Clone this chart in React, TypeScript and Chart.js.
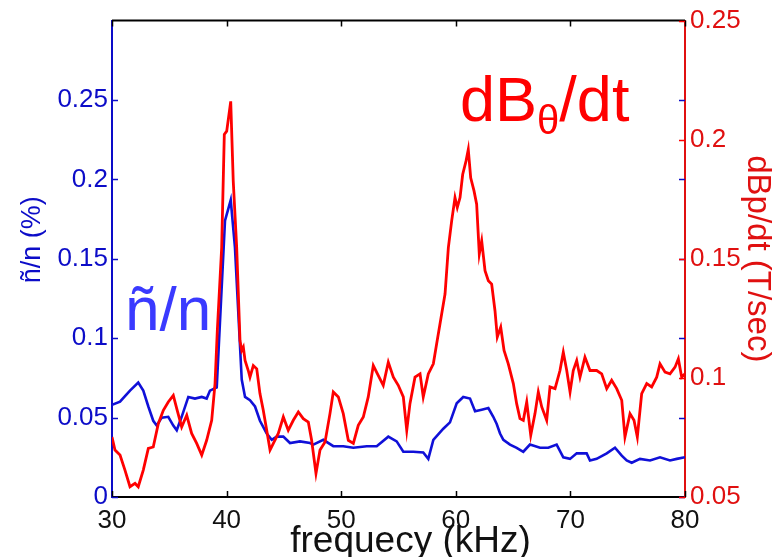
import React, { useEffect, useRef } from "react";
import { Chart, registerables } from "chart.js";
Chart.register(...registerables);

// ---- data ----
const freqTicks = [30, 40, 50, 60, 70, 80];
const leftTicks = [0, 0.05, 0.1, 0.15, 0.2, 0.25];
const rightTicks = [0.05, 0.1, 0.15, 0.2, 0.25];

const blueFreq = [30.00, 30.70, 31.57, 32.29, 32.73, 33.17, 33.60, 33.90, 34.34, 34.91, 35.35, 35.65, 36.08, 36.66, 37.24, 37.83, 38.26, 38.55, 39.14, 39.86, 40.36, 40.73, 41.32, 41.61, 42.04, 42.48, 42.91, 43.50, 43.94, 44.37, 44.95, 45.53, 46.40, 47.28, 47.57, 48.44, 49.31, 50.18, 51.06, 52.23, 53.10, 54.11, 54.84, 55.42, 56.29, 57.16, 57.60, 58.04, 58.91, 59.49, 60.08, 60.65, 61.24, 61.68, 62.26, 62.84, 63.27, 63.57, 63.86, 64.15, 64.73, 65.31, 65.89, 66.47, 67.35, 68.07, 68.80, 69.38, 69.97, 70.55, 71.42, 71.71, 72.29, 73.17, 73.89, 74.48, 74.91, 75.35, 76.07, 76.95, 77.82, 78.69, 79.28, 80.00];
const blueVal = [0.058, 0.060, 0.067, 0.072, 0.067, 0.057, 0.048, 0.045, 0.050, 0.0505, 0.045, 0.042, 0.0505, 0.063, 0.062, 0.063, 0.062, 0.067, 0.069, 0.174, 0.187, 0.157, 0.074, 0.063, 0.061, 0.057, 0.048, 0.040, 0.036, 0.038, 0.038, 0.034, 0.035, 0.034, 0.033, 0.036, 0.032, 0.032, 0.031, 0.032, 0.032, 0.038, 0.035, 0.0285, 0.0285, 0.028, 0.024, 0.036, 0.043, 0.047, 0.059, 0.063, 0.062, 0.054, 0.055, 0.056, 0.0505, 0.046, 0.040, 0.036, 0.033, 0.031, 0.0285, 0.033, 0.031, 0.031, 0.033, 0.025, 0.024, 0.0275, 0.0275, 0.023, 0.024, 0.0275, 0.031, 0.026, 0.023, 0.0216, 0.024, 0.023, 0.025, 0.023, 0.024, 0.025];

const redFreq = [30.00, 30.26, 30.70, 31.13, 31.57, 32.01, 32.29, 32.73, 33.17, 33.60, 34.04, 34.48, 34.91, 35.35, 35.65, 36.08, 36.52, 36.95, 37.39, 37.83, 38.26, 38.70, 38.99, 39.19, 39.57, 39.80, 40.01, 40.36, 40.58, 40.88, 41.17, 41.32, 41.46, 41.61, 41.89, 42.04, 42.33, 42.63, 42.91, 43.20, 43.50, 43.79, 44.08, 44.51, 44.95, 45.38, 45.82, 46.26, 46.69, 47.13, 47.42, 47.80, 48.15, 48.59, 49.02, 49.31, 49.75, 50.18, 50.62, 51.06, 51.49, 51.93, 52.36, 52.80, 53.24, 53.67, 54.11, 54.55, 54.98, 55.42, 55.72, 56.00, 56.44, 56.88, 57.16, 57.60, 58.04, 58.33, 58.77, 59.06, 59.35, 59.64, 59.93, 60.13, 60.37, 60.60, 60.89, 61.09, 61.30, 61.59, 61.82, 62.05, 62.26, 62.55, 62.84, 63.13, 63.42, 63.62, 63.92, 64.21, 64.58, 65.02, 65.31, 65.60, 65.89, 66.19, 66.54, 66.91, 67.20, 67.50, 67.93, 68.22, 68.66, 69.09, 69.38, 69.68, 69.97, 70.25, 70.55, 70.84, 71.27, 71.71, 72.29, 72.73, 73.17, 73.60, 74.04, 74.48, 74.76, 75.20, 75.55, 75.84, 76.22, 76.66, 77.09, 77.53, 77.82, 78.26, 78.69, 79.13, 79.42, 79.71, 80.00];
const redVal = [0.0752, 0.0697, 0.0676, 0.0613, 0.0543, 0.0557, 0.0543, 0.0613, 0.0704, 0.0710, 0.0808, 0.0864, 0.0899, 0.0927, 0.0871, 0.0794, 0.0843, 0.0767, 0.0725, 0.0676, 0.0738, 0.0822, 0.0976, 0.1199, 0.1547, 0.2022, 0.2036, 0.2161, 0.1826, 0.1547, 0.1157, 0.1115, 0.1129, 0.1073, 0.1031, 0.1003, 0.1052, 0.1038, 0.0934, 0.0864, 0.0780, 0.0697, 0.0725, 0.0767, 0.0836, 0.0780, 0.0822, 0.0857, 0.0829, 0.0815, 0.0738, 0.0599, 0.0697, 0.0731, 0.0850, 0.0941, 0.0920, 0.0850, 0.0738, 0.0725, 0.0801, 0.0836, 0.0920, 0.1052, 0.1010, 0.0969, 0.1066, 0.1003, 0.0969, 0.0920, 0.0780, 0.0892, 0.1003, 0.1017, 0.0920, 0.1017, 0.1059, 0.1143, 0.1269, 0.1352, 0.1547, 0.1659, 0.1757, 0.1715, 0.1757, 0.1854, 0.1910, 0.1959, 0.1840, 0.1785, 0.1729, 0.1520, 0.1575, 0.1450, 0.1408, 0.1394, 0.1282, 0.1171, 0.1213, 0.1115, 0.1059, 0.0976, 0.0892, 0.0829, 0.0822, 0.0899, 0.0759, 0.0850, 0.0941, 0.0878, 0.0822, 0.0962, 0.0955, 0.1031, 0.1108, 0.1031, 0.0941, 0.1031, 0.1073, 0.1003, 0.1087, 0.1031, 0.1031, 0.1017, 0.0955, 0.0990, 0.0955, 0.0906, 0.0752, 0.0850, 0.0822, 0.0752, 0.0934, 0.0976, 0.0962, 0.1003, 0.1059, 0.1024, 0.1017, 0.1045, 0.1080, 0.1003, 0.1017];

const xTitle = "frequecy (kHz)";
const leftTitle = "ñ/n (%)";
const rightTitle = "dBp/dt (T/sec)";
const blueLabel = "ñ/n";
const redLabelMain = "dB";
const redLabelSub = "θ";
const redLabelTail = "/dt";

const FONT = "'Liberation Sans', Arial, sans-serif";
const BLUE = "#1010d8";
const AXBLUE = "#0c0cc8";
const RED = "#ff0000";
const AXRED = "#e01010";

const fmt = (v: number) => String(+Number(v).toFixed(2));

const inwardPlugin = {
  id: "inwardTicks",
  afterDraw(chart: any) {
    const { ctx, chartArea: ca, scales } = chart;
    const x = scales.x, y = scales.y, y1 = scales.y1;
    const L = 6;
    ctx.save();
    // top frame line
    ctx.strokeStyle = "#000";
    ctx.lineWidth = 2;
    ctx.beginPath();
    ctx.moveTo(ca.left, ca.top);
    ctx.lineTo(ca.right, ca.top);
    ctx.stroke();
    ctx.lineWidth = 1.5;
    ctx.beginPath();
    freqTicks.forEach((v) => {
      const px = Math.round(x.getPixelForValue(v)) + 0.5;
      ctx.moveTo(px, ca.bottom);
      ctx.lineTo(px, ca.bottom - L);
      ctx.moveTo(px, ca.top);
      ctx.lineTo(px, ca.top + L);
    });
    ctx.stroke();
    ctx.strokeStyle = AXBLUE;
    ctx.beginPath();
    leftTicks.forEach((v) => {
      const py = Math.round(y.getPixelForValue(v)) + 0.5;
      ctx.moveTo(ca.left, py);
      ctx.lineTo(ca.left + L, py);
      ctx.moveTo(ca.right, py);
      ctx.lineTo(ca.right - L, py);
    });
    ctx.stroke();
    ctx.strokeStyle = RED;
    ctx.beginPath();
    rightTicks.forEach((v) => {
      const py = Math.round(y1.getPixelForValue(v)) + 0.5;
      ctx.moveTo(ca.right, py);
      ctx.lineTo(ca.right - L, py);
    });
    ctx.stroke();

    // axis titles (left and bottom)
    ctx.fillStyle = AXBLUE;
    ctx.font = `27px ${FONT}`;
    ctx.textAlign = "center";
    ctx.textBaseline = "middle";
    ctx.save();
    ctx.translate(33, (ca.top + ca.bottom) / 2 - 19);
    ctx.rotate(-Math.PI / 2);
    ctx.fillText(leftTitle, 0, 0);
    ctx.restore();

    ctx.fillStyle = "#111";
    ctx.font = `37px ${FONT}`;
    ctx.textBaseline = "alphabetic";
    ctx.fillText(xTitle, (ca.left + ca.right) / 2 + 12, ca.bottom + 55);

    // in-plot labels
    ctx.textBaseline = "alphabetic";
    ctx.textAlign = "left";
    ctx.fillStyle = "#3a3aff";
    ctx.font = `62px ${FONT}`;
    ctx.fillText(blueLabel, x.getPixelForValue(31.13), y.getPixelForValue(0.105));

    ctx.fillStyle = RED;
    let bx = x.getPixelForValue(60.37);
    const by = y1.getPixelForValue(0.2077);
    ctx.font = `63px ${FONT}`;
    ctx.fillText(redLabelMain, bx, by);
    bx += ctx.measureText(redLabelMain).width;
    ctx.font = `40px ${FONT}`;
    ctx.fillText(redLabelSub, bx, by + 13);
    bx += ctx.measureText(redLabelSub).width;
    ctx.font = `63px ${FONT}`;
    ctx.fillText(redLabelTail, bx, by);
    ctx.restore();
  },
};

export default function App() {
  const ref = useRef<HTMLCanvasElement>(null);
  useEffect(() => {
    if (!ref.current) return;
    const chart = new Chart(ref.current, {
      type: "line",
      data: {
        datasets: [
          {
            label: "dBp/dt",
            data: redFreq.map((f, i) => ({ x: f, y: redVal[i] })),
            yAxisID: "y1",
            borderColor: RED,
            borderWidth: 2.8,
            pointRadius: 0,
            tension: 0,
          },
          {
            label: "n/n",
            data: blueFreq.map((f, i) => ({ x: f, y: blueVal[i] })),
            yAxisID: "y",
            borderColor: BLUE,
            borderWidth: 2.6,
            pointRadius: 0,
            tension: 0,
          },
        ],
      },
      options: {
        animation: false,
        responsive: false,
        maintainAspectRatio: false,
        layout: { padding: { top: 19, left: 0, right: 0, bottom: 0 } },
        plugins: { legend: { display: false }, tooltip: { enabled: false } },
        scales: {
          x: {
            type: "linear",
            position: "bottom",
            min: 30,
            max: 80,
            afterBuildTicks: (s: any) => {
              s.ticks = freqTicks.map((v) => ({ value: v }));
            },
            afterFit: (s: any) => {
              s.height = 60;
            },
            grid: { display: false, drawTicks: false },
            border: { display: true, color: "#000", width: 2 },
            ticks: {
              color: "#111",
              font: { family: FONT, size: 26 },
              padding: 8,
              maxRotation: 0,
              callback: (v: any) => fmt(v),
            },
          },
          y: {
            type: "linear",
            position: "left",
            min: 0,
            max: 0.3,
            afterBuildTicks: (s: any) => {
              s.ticks = leftTicks.map((v) => ({ value: v }));
            },
            afterFit: (s: any) => {
              s.width = 112;
            },
            grid: { display: false, drawTicks: false },
            border: { display: true, color: AXBLUE, width: 2 },
            ticks: {
              color: AXBLUE,
              font: { family: FONT, size: 26 },
              padding: 4,
              callback: (v: any) => fmt(v),
            },
          },
          y1: {
            type: "linear",
            position: "right",
            min: 0.05,
            max: 0.25,
            afterBuildTicks: (s: any) => {
              s.ticks = rightTicks.map((v) => ({ value: v }));
            },
            afterFit: (s: any) => {
              s.width = 92;
            },
            grid: { display: false, drawTicks: false },
            border: { display: true, color: AXRED, width: 2 },
            ticks: {
              color: AXRED,
              font: { family: FONT, size: 26 },
              padding: 5,
              callback: (v: any) => fmt(v),
            },
            title: {
              display: true,
              text: rightTitle,
              color: AXRED,
              font: { family: FONT, size: 33, lineHeight: 1.2 },
              padding: { top: 0, bottom: 0 },
            },
          },
        },
      },
      plugins: [inwardPlugin],
    });
    return () => chart.destroy();
  }, []);

  return (
    <div
      style={{
        position: "fixed",
        left: 0,
        top: 0,
        width: 777,
        height: 557,
        background: "#fff",
        overflow: "hidden",
      }}
    >
      <canvas ref={ref} width={777} height={557} style={{ display: "block" }} />
    </div>
  );
}
